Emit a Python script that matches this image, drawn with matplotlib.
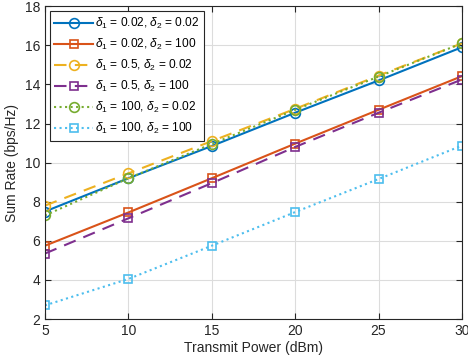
import numpy as np
import matplotlib.pyplot as plt

plt.rcParams['font.family'] = ['Liberation Sans', 'DejaVu Sans']
plt.rcParams['mathtext.fontset'] = 'custom'
plt.rcParams['mathtext.it'] = 'Liberation Sans:italic'
plt.rcParams['mathtext.rm'] = 'Liberation Sans'

power = [5, 10, 15, 20, 25, 30]
rate_a = [7.5, 9.2, 10.85, 12.55, 14.2, 15.9]    # d1=0.02, d2=0.02
rate_b = [5.75, 7.45, 9.2, 10.97, 12.7, 14.42]   # d1=0.02, d2=100
rate_c = [7.8, 9.45, 11.1, 12.75, 14.45, 16.1]   # d1=0.5, d2=0.02
rate_d = [5.35, 7.15, 8.95, 10.8, 12.55, 14.25]  # d1=0.5, d2=100
rate_e = [7.3, 9.2, 10.95, 12.7, 14.4, 16.1]     # d1=100, d2=0.02
rate_f = [2.7, 4.05, 5.75, 7.47, 9.16, 10.87]    # d1=100, d2=100

labels = [r'$\delta_1$ = 0.02, $\delta_2$ = 0.02',
          r'$\delta_1$ = 0.02, $\delta_2$ = 100',
          r'$\delta_1$ = 0.5, $\delta_2$ = 0.02',
          r'$\delta_1$ = 0.5, $\delta_2$ = 100',
          r'$\delta_1$ = 100, $\delta_2$ = 0.02',
          r'$\delta_1$ = 100, $\delta_2$ = 100']

colors = ['#0072BD', '#D95319', '#EDB120', '#7E2F8E', '#77AC30', '#4DBEEE']
styles = ['-', '-', (0, (6, 4)), (0, (6, 4)), ':', ':']
markers = ['o', 's', 'o', 's', 'o', 's']

fig = plt.figure(figsize=(4.68, 3.63), dpi=100)
ax = fig.add_axes([0.096, 0.121, 0.891, 0.862])

series = [rate_a, rate_b, rate_c, rate_d, rate_e, rate_f]
for y, c, ls, m, lab in zip(series, colors, styles, markers, labels):
    ax.plot(power, y, color=c, linestyle=ls, marker=m, markersize=7 if m == 'o' else 6,
            markerfacecolor='none', markeredgewidth=1.2, linewidth=1.5, label=lab)

ax.set_xlim(5, 30)
ax.set_ylim(2, 18)
ax.set_xticks([5, 10, 15, 20, 25, 30])
ax.set_yticks(np.arange(2, 19, 2))
ax.grid(True, color='#dcdcdc', linewidth=0.8)
ax.set_axisbelow(True)
ax.tick_params(direction='in', length=4, labelsize=10, colors='#262626', top=True, right=True)
for s in ax.spines.values():
    s.set_color('#262626')
    s.set_linewidth(0.8)
ax.set_xlabel('Transmit Power (dBm)', fontsize=10, color='#262626', labelpad=2)
ax.set_ylabel('Sum Rate (bps/Hz)', fontsize=10, color='#262626', labelpad=4)

leg = ax.legend(loc='upper left', fontsize=8.6, fancybox=False, edgecolor='#262626',
                framealpha=1, handlelength=3.2, borderpad=0.4, labelspacing=0.5,
                handletextpad=0.2, borderaxespad=0.4)
leg.get_frame().set_linewidth(0.8)

fig.savefig('out.png', dpi=100)
